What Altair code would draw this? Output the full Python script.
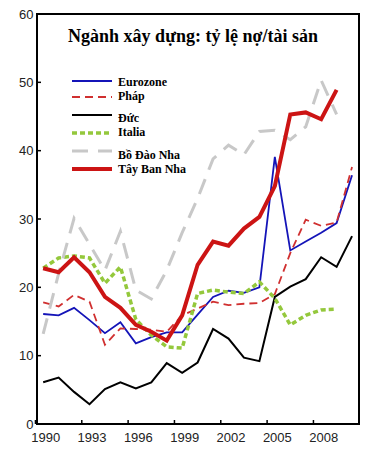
import altair as alt
import pandas as pd

years = list(range(1990, 2011))
eurozone = [16.1, 15.9, 17.0, 15.2, 13.3, 14.9, 11.8, 12.7, 13.4, 13.4, 16.0,
            18.6, 19.5, 19.2, 20.0, 39.1, 25.4, 26.7, 28.0, 29.4, 36.4]
phap = [17.8, 17.2, 18.9, 17.9, 11.6, 14.0, 13.9, 13.8, 13.5, 15.9, 16.9,
        17.9, 17.4, 17.6, 17.7, 19.0, 25.0, 29.9, 29.0, 29.5, 37.6]
duc = [6.1, 6.8, 4.7, 2.9, 5.1, 6.1, 5.2, 6.1, 8.9, 7.5, 9.0,
       13.9, 12.5, 9.7, 9.2, 18.6, 20.1, 21.2, 24.4, 23.0, 27.5]
italia = [22.8, 24.3, 24.6, 24.3, 20.6, 23.0, 15.3, 13.0, 11.3, 11.1, 19.1,
          19.6, 19.3, 19.1, 20.8, 18.4, 14.5, 15.9, 16.7, 16.8]
bo_dao_nha = [13.2, 22.0, 30.1, 26.3, 22.5, 28.2, 19.6, 18.3, 22.5, 28.0, 33.0,
              38.8, 40.8, 39.4, 42.8, 43.0, 41.6, 43.5, 50.3, 45.3]
tay_ban_nha = [22.8, 22.2, 24.4, 22.2, 18.6, 17.0, 14.5, 13.5, 12.2, 15.9, 23.3,
               26.7, 26.1, 28.6, 30.3, 34.8, 45.3, 45.6, 44.6, 48.9]

series_names = ["Eurozone", "Pháp", "Đức", "Italia", "Bồ Đào Nha", "Tây Ban Nha"]
series_values = [eurozone, phap, duc, italia, bo_dao_nha, tay_ban_nha]
x_ticks = [1990, 1993, 1996, 1999, 2002, 2005, 2008]
y_ticks = [0, 10, 20, 30, 40, 50, 60]
title_text = "Ngành xây dựng: tỷ lệ nợ/tài sản"

styles = {
    "Eurozone": dict(color="#1414B8", strokeWidth=1.8),
    "Pháp": dict(color="#D03030", strokeWidth=1.8, strokeDash=[8, 5]),
    "Đức": dict(color="#000000", strokeWidth=2),
    "Italia": dict(color="#94C83C", strokeWidth=3.5, strokeDash=[5, 3]),
    "Bồ Đào Nha": dict(color="#C8C8C8", strokeWidth=3, strokeDash=[16, 10]),
    "Tây Ban Nha": dict(color="#CC1414", strokeWidth=4),
}
legend_line_y = [67, 83, 101, 119, 137, 155]
legend_text_y = [68, 82, 104, 118, 141, 155]

rows = []
for name, vals in zip(series_names, series_values):
    for yr, v in zip(years, vals):
        rows.append({"series": name, "year": yr, "value": v})
df = pd.DataFrame(rows)

xscale = alt.Scale(domain=[1989.6, 2010.45], nice=False, zero=False)
yscale = alt.Scale(domain=[0, 60], nice=False)
x_axis = alt.Axis(values=x_ticks, format="d", title=None, labelFlush=False,
                  labelPadding=7, labelOffset=2)
y_axis = alt.Axis(values=y_ticks, title=None, labelPadding=4)

layers = []
for name in series_names:
    layers.append(
        alt.Chart(df).transform_filter(alt.datum.series == name)
        .mark_line(**styles[name])
        .encode(x=alt.X("year:Q", scale=xscale, axis=x_axis),
                y=alt.Y("value:Q", scale=yscale, axis=y_axis))
    )

xt = pd.DataFrame({"year": x_ticks})
layers.append(
    alt.Chart(xt).transform_calculate(pos="datum.year - 0.5")
    .mark_rule(color="black", strokeWidth=1.5)
    .encode(x=alt.X("pos:Q", scale=xscale, axis=x_axis),
            y=alt.value(410), y2=alt.value(406))
)
yt = pd.DataFrame({"value": y_ticks[1:-1]})
layers.append(
    alt.Chart(yt).mark_rule(color="black", strokeWidth=1.5)
    .encode(y=alt.Y("value:Q", scale=yscale, axis=y_axis),
            x=alt.value(0), x2=alt.value(4))
)

for name, ly, ty in zip(series_names, legend_line_y, legend_text_y):
    layers.append(
        alt.Chart(alt.Data(values=[{}])).mark_rule(**styles[name])
        .encode(x=alt.value(35), x2=alt.value(75), y=alt.value(ly))
    )
    layers.append(
        alt.Chart(alt.Data(values=[{}])).mark_text(
            text=name, align="left", baseline="middle", font="Liberation Serif",
            fontWeight="bold", fontSize=12, color="black")
        .encode(x=alt.value(81), y=alt.value(ty))
    )

layers.append(
    alt.Chart(alt.Data(values=[{}])).mark_text(
        text=title_text, align="center", baseline="alphabetic",
        font="Liberation Serif", fontWeight="bold", fontSize=18, color="black")
    .encode(x=alt.value(156), y=alt.value(28))
)

chart = alt.layer(*layers).properties(
    width=322, height=410,
    padding={"left": 29, "top": 6, "right": 12, "bottom": 26},
    autosize=alt.AutoSizeParams(type="none"),
).configure_view(
    stroke="black", strokeWidth=2
).configure_axis(
    domain=False, ticks=False, tickSize=0, grid=False,
    labelFont="Liberation Sans", labelFontSize=13, labelColor="#222222"
)

chart.save("out.html", embed_options={"renderer": "svg", "actions": False})
